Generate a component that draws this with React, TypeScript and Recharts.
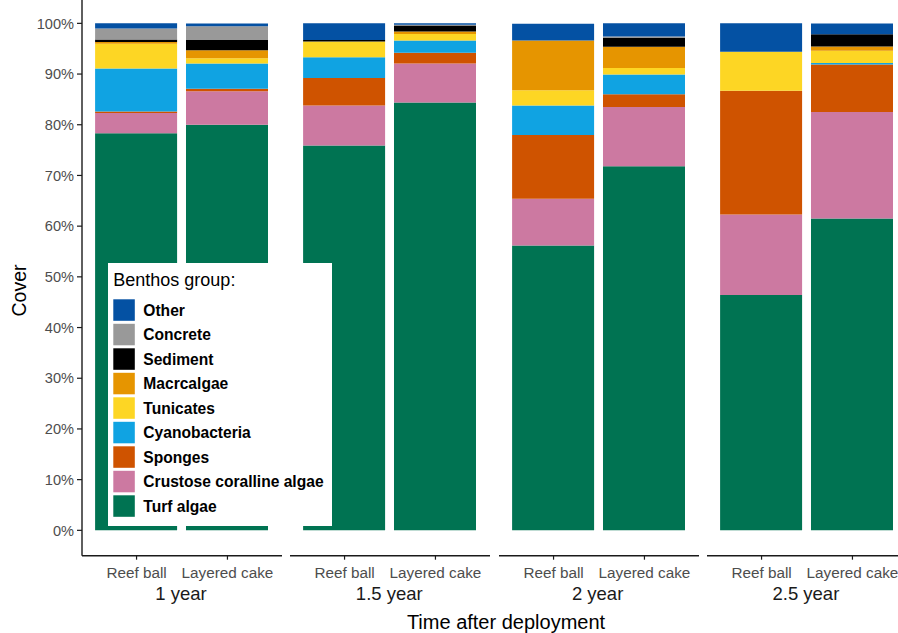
import React from 'react';
import { BarChart, Bar, XAxis, YAxis } from 'recharts';

// ---- data ----
const categories = ['Reef ball', 'Layered cake'];
const periods = ['1 year', '1.5 year', '2 year', '2.5 year'];
// values in %, order: 1y RB, 1y LC, 1.5y RB, 1.5y LC, 2y RB, 2y LC, 2.5y RB, 2.5y LC
const turfAlgae = [78.3, 80.0, 75.9, 84.4, 56.2, 71.8, 46.4, 61.5];
const crustoseCoralline = [4.0, 6.6, 7.9, 7.7, 9.2, 11.7, 15.9, 21.0];
const sponges = [0.3, 0.5, 5.4, 2.1, 12.6, 2.5, 24.4, 9.4];
const cyanobacteria = [8.5, 5.0, 4.1, 2.4, 5.8, 3.9, 0, 0.3];
const tunicates = [4.9, 1.0, 3.1, 1.3, 3.0, 1.3, 7.7, 2.4];
const macroalgae = [0.3, 1.6, 0, 0.5, 9.8, 4.2, 0, 0.85];
const sediment = [0.5, 2.0, 0.3, 1.2, 0, 1.7, 0, 2.4];
const concrete = [2.2, 2.75, 0, 0.1, 0, 0.3, 0, 0];
const other = [1.0, 0.5, 3.3, 0.3, 3.3, 2.6, 5.6, 2.1];
const yTicks = [0, 10, 20, 30, 40, 50, 60, 70, 80, 90, 100];

// stacking order, bottom to top
const series = [
  { key: 'turf', name: 'Turf algae', values: turfAlgae, color: '#007352' },
  { key: 'cca', name: 'Crustose coralline algae', values: crustoseCoralline, color: '#CC79A1' },
  { key: 'sponges', name: 'Sponges', values: sponges, color: '#CF5300' },
  { key: 'cyano', name: 'Cyanobacteria', values: cyanobacteria, color: '#10A3E2' },
  { key: 'tunicates', name: 'Tunicates', values: tunicates, color: '#FDD624' },
  { key: 'macro', name: 'Macrcalgae', values: macroalgae, color: '#E69500' },
  { key: 'sediment', name: 'Sediment', values: sediment, color: '#000000' },
  { key: 'concrete', name: 'Concrete', values: concrete, color: '#999999' },
  { key: 'other', name: 'Other', values: other, color: '#0451A3' },
];
const legendOrder = [...series].reverse();

// ---- layout ----
const FONT = '"Liberation Sans", Arial, Helvetica, sans-serif';
const PANEL_W = 200;
const PANEL_STEP = 208.3;
const PANEL_X0 = 82;
const Y_AXIS_W = 82;
const CHART_TOP = -1.85;
const PLOT_H = 557.7;
const XAXIS_H = 40;
const AXIS_COLOR = '#1a1a1a';
const TICK_TEXT = '#4d4d4d';

function panelData(p: number) {
  return categories.map((c, i) => {
    const row: Record<string, any> = { cat: c };
    series.forEach((s) => {
      row[s.key] = s.values[p * 2 + i];
    });
    return row;
  });
}

function Panel({ p }: { p: number }) {
  const withY = p === 0;
  const left = withY ? PANEL_X0 - Y_AXIS_W : PANEL_X0 + p * PANEL_STEP;
  const width = withY ? PANEL_W + Y_AXIS_W : PANEL_W;
  return (
    <div style={{ position: 'absolute', left, top: CHART_TOP }}>
      <BarChart
        width={width}
        height={PLOT_H + XAXIS_H}
        data={panelData(p)}
        margin={{ top: 0, right: 0, bottom: 0, left: 0 }}
        barSize={82}
      >
        <XAxis
          dataKey="cat"
          type="category"
          interval={0}
          height={XAXIS_H}
          padding={{ left: 9.1, right: 9.1 }}
          tickSize={4}
          tickMargin={7}
          axisLine={{ stroke: AXIS_COLOR, strokeWidth: 1.4 }}
          tickLine={{ stroke: AXIS_COLOR, strokeWidth: 1.2 }}
          tick={{ fill: TICK_TEXT, fontSize: 15.3, fontFamily: FONT }}
        />
        <YAxis
          type="number"
          domain={[-5, 105]}
          allowDataOverflow
          ticks={yTicks}
          hide={!withY}
          width={Y_AXIS_W}
          tickSize={5}
          tickMargin={3}
          interval={0}
          tickFormatter={(v: number) => `${v}%`}
          axisLine={{ stroke: AXIS_COLOR, strokeWidth: 1.4 }}
          tickLine={{ stroke: AXIS_COLOR, strokeWidth: 1.2 }}
          tick={{ fill: TICK_TEXT, fontSize: 14.6, fontFamily: FONT }}
        />
        {series.map((s) => (
          <Bar
            key={s.key}
            dataKey={s.key}
            name={s.name}
            stackId="a"
            fill={s.color}
            isAnimationActive={false}
          />
        ))}
      </BarChart>
    </div>
  );
}

export default function App() {
  const legendX = 108;
  const legendY = 263;
  const keyX = 113.3;
  const keyY0 = 299.3;
  const keySize = 21.5;
  const keyStep = 24.5;
  return (
    <div
      style={{
        position: 'fixed',
        left: 0,
        top: 0,
        width: 898,
        height: 633,
        overflow: 'hidden',
        background: '#ffffff',
        fontFamily: FONT,
      }}
    >
      {periods.map((_, p) => (
        <Panel key={p} p={p} />
      ))}
      <svg
        width={898}
        height={633}
        style={{ position: 'absolute', left: 0, top: 0, pointerEvents: 'none' }}
        fontFamily={FONT}
      >
        {periods.map((label, p) => (
          <text
            key={label}
            x={PANEL_X0 + p * PANEL_STEP + PANEL_W / 2 - 1}
            y={600}
            textAnchor="middle"
            fontSize={18.5}
            fill="#1a1a1a"
          >
            {label}
          </text>
        ))}
        <text x={506} y={628.5} textAnchor="middle" fontSize={20} fill="#000">
          Time after deployment
        </text>
        <text
          transform="translate(25.5, 290.5) rotate(-90)"
          textAnchor="middle"
          fontSize={19.5}
          fill="#000"
        >
          Cover
        </text>
        {/* legend */}
        <rect x={legendX} y={legendY} width={224} height={263} fill="#ffffff" />
        <text x={113.3} y={286} fontSize={18} fill="#000">
          Benthos group:
        </text>
        {legendOrder.map((s, i) => {
          const y = keyY0 + i * keyStep;
          return (
            <g key={s.key}>
              <rect x={keyX} y={y} width={keySize} height={keySize} fill={s.color} />
              <text
                x={143.3}
                y={y + keySize / 2 + 5.8}
                fontSize={15.6}
                fontWeight="bold"
                fill="#000"
              >
                {s.name}
              </text>
            </g>
          );
        })}
      </svg>
    </div>
  );
}
